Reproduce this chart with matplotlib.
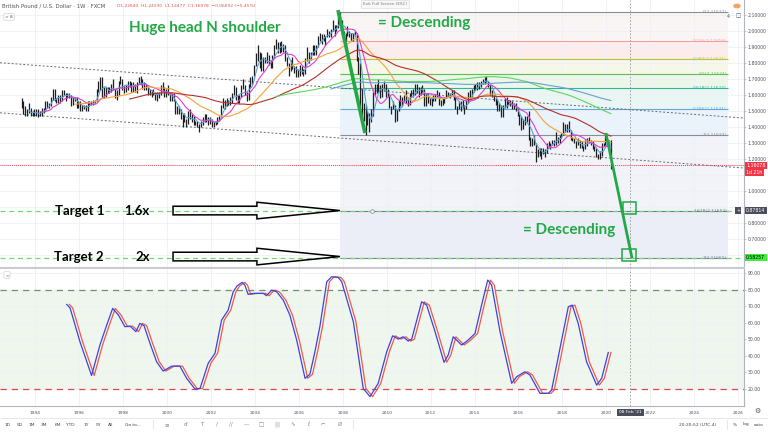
import numpy as np
import pandas as pd
import matplotlib
matplotlib.use("Agg")
import matplotlib.pyplot as plt
from matplotlib.patches import Polygon, Rectangle, Circle
from matplotlib.lines import Line2D

plt.rcParams["font.family"] = ["DejaVu Sans"]

W, H = 768, 432

# GBPUSD monthly bars, May 1993 .. Mar 2020 (close, high, low)
close = [
    1.55, 1.49, 1.49, 1.50, 1.50, 1.48, 1.49, 1.48,
    1.50, 1.48, 1.48, 1.51, 1.51, 1.54, 1.54, 1.54, 1.58, 1.63, 1.56, 1.56,
    1.59, 1.58, 1.62, 1.61, 1.59, 1.59, 1.60, 1.55, 1.58, 1.58, 1.53, 1.55,
    1.50, 1.53, 1.53, 1.51, 1.55, 1.55, 1.55, 1.56, 1.56, 1.63, 1.68, 1.71,
    1.60, 1.63, 1.64, 1.62, 1.64, 1.66, 1.64, 1.62, 1.61, 1.68, 1.69, 1.65,
    1.64, 1.65, 1.68, 1.67, 1.63, 1.67, 1.64, 1.68, 1.70, 1.69, 1.65, 1.66,
    1.65, 1.61, 1.61, 1.61, 1.61, 1.58, 1.61, 1.61, 1.65, 1.64, 1.59, 1.61,
    1.61, 1.58, 1.59, 1.56, 1.49, 1.52, 1.49, 1.45, 1.48, 1.45, 1.42, 1.49,
    1.46, 1.45, 1.42, 1.43, 1.42, 1.41, 1.43, 1.45, 1.47, 1.45, 1.43, 1.45,
    1.41, 1.42, 1.42, 1.46, 1.46, 1.53, 1.57, 1.55, 1.57, 1.56, 1.55, 1.61,
    1.65, 1.58, 1.58, 1.60, 1.65, 1.65, 1.61, 1.58, 1.66, 1.70, 1.72, 1.79,
    1.82, 1.87, 1.84, 1.77, 1.83, 1.81, 1.82, 1.80, 1.81, 1.84, 1.91, 1.92,
    1.88, 1.92, 1.89, 1.91, 1.82, 1.79, 1.76, 1.80, 1.76, 1.77, 1.73, 1.72,
    1.78, 1.75, 1.74, 1.82, 1.87, 1.85, 1.87, 1.90, 1.87, 1.91, 1.97, 1.96,
    1.96, 1.96, 1.97, 2.00, 1.98, 2.01, 2.03, 2.01, 2.04, 2.08, 2.06, 1.99,
    1.99, 1.99, 1.98, 1.98, 1.98, 1.99, 1.98, 1.82, 1.78, 1.61, 1.54, 1.46,
    1.44, 1.43, 1.43, 1.48, 1.62, 1.65, 1.67, 1.63, 1.60, 1.65, 1.65, 1.61,
    1.60, 1.52, 1.52, 1.53, 1.45, 1.50, 1.57, 1.54, 1.57, 1.60, 1.56, 1.56,
    1.60, 1.62, 1.60, 1.67, 1.65, 1.60, 1.64, 1.63, 1.56, 1.61, 1.57, 1.55,
    1.58, 1.59, 1.60, 1.62, 1.54, 1.57, 1.57, 1.59, 1.62, 1.61, 1.60, 1.63,
    1.59, 1.52, 1.52, 1.55, 1.52, 1.52, 1.52, 1.55, 1.62, 1.60, 1.64, 1.66,
    1.64, 1.67, 1.67, 1.69, 1.68, 1.71, 1.69, 1.66, 1.62, 1.60, 1.56, 1.56,
    1.50, 1.54, 1.48, 1.54, 1.53, 1.57, 1.56, 1.54, 1.51, 1.54, 1.51, 1.47,
    1.42, 1.39, 1.44, 1.46, 1.45, 1.33, 1.32, 1.31, 1.30, 1.22, 1.25, 1.23,
    1.26, 1.24, 1.25, 1.29, 1.29, 1.30, 1.32, 1.29, 1.34, 1.33, 1.35, 1.35,
    1.42, 1.38, 1.40, 1.38, 1.33, 1.32, 1.31, 1.30, 1.30, 1.28, 1.28, 1.28,
    1.31, 1.33, 1.30, 1.30, 1.26, 1.27, 1.22, 1.22, 1.23, 1.29, 1.29, 1.33,
    1.32, 1.28, 1.16,
]
high = [
    1.58, 1.56, 1.53, 1.51, 1.55, 1.52, 1.50, 1.51,
    1.51, 1.51, 1.50, 1.52, 1.52, 1.56, 1.56, 1.55, 1.59, 1.64, 1.64, 1.58,
    1.60, 1.60, 1.63, 1.63, 1.61, 1.61, 1.61, 1.60, 1.59, 1.59, 1.59, 1.56,
    1.56, 1.54, 1.54, 1.54, 1.56, 1.56, 1.56, 1.57, 1.57, 1.64, 1.69, 1.71,
    1.71, 1.65, 1.65, 1.65, 1.65, 1.67, 1.70, 1.64, 1.63, 1.69, 1.72, 1.70,
    1.66, 1.66, 1.69, 1.69, 1.68, 1.68, 1.67, 1.68, 1.71, 1.72, 1.70, 1.68,
    1.67, 1.65, 1.64, 1.63, 1.64, 1.62, 1.62, 1.62, 1.66, 1.68, 1.65, 1.64,
    1.66, 1.62, 1.61, 1.61, 1.57, 1.53, 1.53, 1.51, 1.48, 1.49, 1.45, 1.50,
    1.51, 1.48, 1.47, 1.44, 1.44, 1.42, 1.44, 1.46, 1.48, 1.48, 1.46, 1.46,
    1.45, 1.43, 1.44, 1.46, 1.47, 1.54, 1.58, 1.57, 1.58, 1.57, 1.59, 1.61,
    1.66, 1.65, 1.60, 1.60, 1.66, 1.70, 1.66, 1.62, 1.67, 1.71, 1.72, 1.79,
    1.86, 1.91, 1.87, 1.86, 1.84, 1.84, 1.87, 1.85, 1.82, 1.85, 1.91, 1.95,
    1.93, 1.93, 1.94, 1.92, 1.91, 1.84, 1.80, 1.82, 1.84, 1.78, 1.78, 1.76,
    1.79, 1.78, 1.76, 1.83, 1.90, 1.87, 1.87, 1.91, 1.91, 1.91, 1.97, 1.99,
    1.98, 1.98, 1.97, 2.01, 2.00, 2.01, 2.07, 2.04, 2.04, 2.09, 2.12, 2.07,
    2.00, 1.99, 2.03, 2.00, 1.99, 1.99, 2.00, 1.99, 1.84, 1.80, 1.64, 1.55,
    1.54, 1.50, 1.49, 1.51, 1.62, 1.67, 1.67, 1.70, 1.66, 1.67, 1.69, 1.67,
    1.64, 1.60, 1.53, 1.56, 1.54, 1.51, 1.57, 1.60, 1.59, 1.60, 1.63, 1.59,
    1.61, 1.63, 1.64, 1.67, 1.67, 1.65, 1.65, 1.66, 1.64, 1.61, 1.61, 1.58,
    1.58, 1.60, 1.60, 1.63, 1.62, 1.57, 1.58, 1.59, 1.63, 1.62, 1.61, 1.63,
    1.63, 1.59, 1.53, 1.56, 1.56, 1.57, 1.54, 1.57, 1.62, 1.63, 1.64, 1.66,
    1.67, 1.68, 1.68, 1.69, 1.70, 1.71, 1.72, 1.69, 1.66, 1.63, 1.60, 1.58,
    1.57, 1.55, 1.54, 1.54, 1.58, 1.59, 1.57, 1.57, 1.56, 1.55, 1.55, 1.52,
    1.48, 1.47, 1.45, 1.47, 1.47, 1.50, 1.34, 1.33, 1.35, 1.30, 1.26, 1.27,
    1.27, 1.27, 1.26, 1.30, 1.31, 1.30, 1.32, 1.32, 1.37, 1.34, 1.35, 1.36,
    1.43, 1.42, 1.42, 1.44, 1.38, 1.34, 1.33, 1.31, 1.33, 1.32, 1.31, 1.28,
    1.32, 1.33, 1.34, 1.32, 1.31, 1.28, 1.27, 1.23, 1.25, 1.30, 1.30, 1.35,
    1.33, 1.32, 1.32,
]
low = [
    1.52, 1.48, 1.47, 1.47, 1.49, 1.47, 1.47, 1.47,
    1.47, 1.46, 1.47, 1.47, 1.49, 1.50, 1.52, 1.52, 1.53, 1.57, 1.56, 1.55,
    1.55, 1.55, 1.56, 1.60, 1.56, 1.58, 1.58, 1.53, 1.54, 1.56, 1.52, 1.52,
    1.50, 1.50, 1.51, 1.50, 1.50, 1.53, 1.54, 1.54, 1.55, 1.56, 1.62, 1.63,
    1.59, 1.58, 1.59, 1.61, 1.61, 1.62, 1.63, 1.58, 1.57, 1.60, 1.67, 1.63,
    1.61, 1.62, 1.63, 1.65, 1.62, 1.62, 1.62, 1.61, 1.67, 1.67, 1.64, 1.63,
    1.63, 1.60, 1.60, 1.59, 1.60, 1.57, 1.56, 1.58, 1.60, 1.63, 1.59, 1.59,
    1.60, 1.56, 1.56, 1.56, 1.48, 1.48, 1.48, 1.45, 1.40, 1.43, 1.40, 1.42,
    1.45, 1.43, 1.41, 1.41, 1.40, 1.37, 1.40, 1.41, 1.43, 1.43, 1.41, 1.42,
    1.40, 1.40, 1.41, 1.42, 1.44, 1.46, 1.52, 1.51, 1.53, 1.54, 1.54, 1.55,
    1.60, 1.57, 1.55, 1.55, 1.59, 1.64, 1.60, 1.56, 1.57, 1.65, 1.67, 1.72,
    1.78, 1.81, 1.77, 1.75, 1.75, 1.80, 1.80, 1.79, 1.77, 1.77, 1.83, 1.89,
    1.86, 1.86, 1.87, 1.87, 1.81, 1.78, 1.72, 1.75, 1.76, 1.74, 1.71, 1.71,
    1.72, 1.73, 1.72, 1.73, 1.81, 1.80, 1.82, 1.85, 1.85, 1.85, 1.90, 1.94,
    1.92, 1.94, 1.91, 1.96, 1.96, 1.96, 2.00, 1.97, 2.00, 2.02, 2.04, 1.97,
    1.94, 1.94, 1.97, 1.96, 1.94, 1.94, 1.97, 1.81, 1.73, 1.52, 1.44, 1.44,
    1.35, 1.41, 1.37, 1.43, 1.47, 1.60, 1.61, 1.62, 1.58, 1.59, 1.63, 1.59,
    1.59, 1.52, 1.48, 1.51, 1.43, 1.44, 1.50, 1.53, 1.53, 1.56, 1.55, 1.53,
    1.54, 1.59, 1.59, 1.60, 1.61, 1.59, 1.60, 1.62, 1.53, 1.53, 1.55, 1.54,
    1.53, 1.56, 1.56, 1.59, 1.54, 1.53, 1.54, 1.55, 1.58, 1.59, 1.58, 1.60,
    1.57, 1.51, 1.48, 1.51, 1.50, 1.52, 1.48, 1.51, 1.55, 1.59, 1.59, 1.62,
    1.63, 1.63, 1.64, 1.65, 1.67, 1.67, 1.68, 1.65, 1.60, 1.59, 1.56, 1.54,
    1.50, 1.50, 1.46, 1.46, 1.52, 1.52, 1.54, 1.53, 1.51, 1.51, 1.50, 1.47,
    1.41, 1.38, 1.39, 1.41, 1.43, 1.32, 1.28, 1.28, 1.29, 1.18, 1.21, 1.22,
    1.20, 1.23, 1.21, 1.24, 1.28, 1.26, 1.29, 1.28, 1.29, 1.30, 1.30, 1.33,
    1.35, 1.37, 1.37, 1.37, 1.32, 1.31, 1.30, 1.27, 1.29, 1.27, 1.27, 1.25,
    1.26, 1.28, 1.30, 1.29, 1.26, 1.25, 1.21, 1.20, 1.20, 1.22, 1.28, 1.29,
    1.29, 1.28, 1.14,
]

# moving averages (months) and their colours
ma_windows = [5, 12, 30, 60, 140, 170]
ma_colors = ["#5b9fd6", "#e03fd0", "#f5a23a", "#b3302c", "#5bd65b", "#6a9fd3"]

# price axis labels (the ones hidden behind the marker boxes are left blank)
price_ticks = [0.6, 0.7, 0.8, 0.9, 1.0, 1.1, 1.2, 1.3, 1.4, 1.5, 1.6, 1.7, 1.8,
               1.9, 2.0, 2.1]
price_hidden = [0.6, 0.9, 1.1]

# fibonacci tool drawn on the price pane
fib_ratios = [0, 0.236, 0.382, 0.5, 0.618, 0.786, 1, 1.618, 2]
fib_labels = ["0(2.11612)", "0.236(2.11618)", "0.382(2.11621)", "0.5(2.11624)",
              "0.618(2.11627)", "0.786(2.11631)", "1(2.11637)", "1.618(2.11652)",
              "2(2.11661)"]
fib_high, fib_low = 2.1161, 1.3503
fib_start, fib_end = 2007.87, 2025.54
fib_line_colors = ["#8a8d96", "#f2a0a0", "#b9c23c", "#5cbf4f", "#2fb59a",
                   "#5ea9e0", "#8a8d96", "#70768f", "#7a7fa0"]
fib_fill_colors = ["#faf5f5", "#fcecec", "#f5f7e8", "#ecf7ea", "#e9f6f3",
                   "#eaf3fb", "#f2f3f9", "#eceef7"]

last_price = 1.16078
target1, target2 = 0.87814, 0.58257
cursor_date = 2021.10

# trend lines drawn by hand (year, price)
channel_upper = [(1992.39, 1.802), (2026.27, 1.456)]
channel_lower = [(1992.39, 1.489), (2026.27, 1.144)]
hs_drop = [(2007.78, 2.131), (2009.01, 1.3625)]
proj_drop = [(2019.98, 1.3625), (2021.17, 0.581)]
target_boxes = [(2021.07, 0.894), (2021.03, 0.600)]

# stochastic oscillator
osc_t = [1995.43, 1995.58, 1996.03, 1996.56, 1996.94, 1997.25, 1997.52, 1997.78,
         1998.08, 1998.31, 1998.58, 1998.76, 1998.95, 1999.22, 1999.52, 1999.82,
         2000.21, 2000.58, 2000.89, 2001.27, 2001.50, 2001.87, 2002.18, 2002.48,
         2002.78, 2003.01, 2003.19, 2003.42, 2003.54, 2003.69, 2003.92, 2004.38,
         2004.53, 2004.76, 2004.99, 2005.29, 2005.59, 2005.90, 2006.28, 2006.50,
         2006.73, 2006.96, 2007.27, 2007.49, 2007.79, 2007.95, 2008.48, 2008.93,
         2009.24, 2009.61, 2010.00, 2010.27, 2010.53, 2010.75, 2010.98, 2011.14,
         2011.59, 2011.82, 2012.20, 2012.61, 2012.80, 2013.03, 2013.41, 2013.71,
         2014.02, 2014.32, 2014.60, 2014.78, 2015.16, 2015.69, 2015.92, 2016.29,
         2016.52, 2016.98, 2017.36, 2017.51, 2017.89, 2018.27, 2018.45, 2018.72,
         2019.10, 2019.56, 2019.79, 2020.09]
stoch_k = [71.1, 69.0, 48.5, 28.0, 46.5, 58.6, 68.7, 64.7,
           57.6, 58.0, 54.6, 59.6, 58.2, 47.5, 36.4, 30.7,
           33.7, 33.7, 26.3, 19.8, 20.2, 35.4, 41.5, 61.6,
           67.7, 78.8, 82.4, 84.5, 82.8, 77.2, 77.8, 77.8,
           76.4, 79.8, 78.8, 73.7, 64.6, 49.5, 26.3, 28.7,
           42.4, 58.0, 84.9, 87.9, 87.5, 84.9, 60.6, 20.2,
           15.2, 23.2, 42.4, 52.1, 50.1, 51.5, 48.9, 50.1,
           72.7, 70.7, 54.6, 36.0, 40.4, 51.5, 46.5, 49.5,
           53.5, 70.7, 85.9, 82.8, 54.6, 23.3, 27.3, 30.3,
           28.3, 17.2, 17.2, 19.2, 44.5, 69.7, 70.7, 59.6,
           36.4, 22.2, 26.3, 42.0]
d_lag = 0.12  # red %D trails the blue %K by about this much (years)

months = pd.date_range("1993-05-01", periods=len(close), freq="MS")
t = np.asarray(months.year + (months.month - 0.5) / 12)

X0, X1 = 1992.39, 2026.27
GREEN = "#22a946"
AXIS_FS = 3.3


def px_box(x0, y0, x1, y1):
    return [x0 / W, 1 - y1 / H, (x1 - x0) / W, (y1 - y0) / H]


fig = plt.figure(figsize=(W / 100, H / 100), dpi=100)
ax = fig.add_axes(px_box(0, 0, 744, 268))
ax2 = fig.add_axes(px_box(0, 269, 744, 405.7))

# ---- price pane
ax.set_xlim(X0, X1)
ax.set_ylim(0.519, 2.194)
ax.set_axisbelow(True)
ax.set_xticks(np.arange(1994, 2027, 2))
ax.set_yticks(price_ticks)
ax.set_yticklabels(["" if v in price_hidden else f"{v:.5f}" for v in price_ticks])
ax.grid(color="#eef0f5", lw=0.6)
ax.tick_params(axis="x", length=0, labelbottom=False)
ax.tick_params(axis="y", left=False, labelleft=False, right=True, labelright=True,
               length=1.5, width=0.5, color="#b2b5be", labelsize=AXIS_FS,
               labelcolor="#4c525e", pad=1.2)
for s in ["top", "left"]:
    ax.spines[s].set_visible(False)
ax.spines["right"].set_color("#b2b5be")
ax.spines["right"].set_linewidth(0.8)
ax.spines["bottom"].set_color("#c9cbd1")
ax.spines["bottom"].set_linewidth(1.5)

fib_prices = [fib_high - r * (fib_high - fib_low) for r in fib_ratios]
for i in range(len(fib_prices) - 1):
    ax.fill_between([fib_start, fib_end], fib_prices[i], fib_prices[i + 1],
                    color=fib_fill_colors[i], lw=0, zorder=0.2)
for p, lab, c in zip(fib_prices, fib_labels, fib_line_colors):
    ax.hlines(p, fib_start, fib_end, colors=c, lw=0.8, zorder=1)
    ax.text(fib_end - 0.05, p, lab, ha="right", va="center", fontsize=3.2,
            color=c, zorder=6)
ax.plot([2009.33], [fib_prices[7]], marker="o", ms=2.6, mfc="white",
        mec="#8a8fa8", mew=0.6, zorder=6)

for lvl in (target1, target2):
    ax.axhline(lvl, color="#6fd86f", ls=(0, (4, 3)), lw=0.9, zorder=2)
ax.axhline(last_price, color="#f23645", ls=(0, (1, 1)), lw=0.7, zorder=2)

for line in (channel_upper, channel_lower):
    xs, ys = zip(*line)
    ax.plot(xs, ys, color="#666a73", ls=(0, (2, 2)), lw=0.7, zorder=2)

ax.vlines(t, low, high, color="#1e1e1e", lw=0.9, zorder=3)
cs = pd.Series(close)
for n, c in zip(ma_windows, ma_colors):
    ax.plot(t, cs.rolling(n).mean(), color=c, lw=0.8, zorder=4)

for seg, lw in ((hs_drop, 2.6), (proj_drop, 2.0)):
    xs, ys = zip(*seg)
    ax.plot(xs, ys, color=GREEN, lw=lw, solid_capstyle="butt", zorder=7)
for cx, cy in target_boxes:
    bw, bh = 0.6, 0.075
    ax.add_patch(Rectangle((cx - bw / 2, cy - bh / 2), bw, bh, fill=False,
                           ec=GREEN, lw=1.1, zorder=7))

ax.axvline(cursor_date, color="#9598a1", ls=(0, (2, 2)), lw=0.6, zorder=5)

# hollow block arrows pointing at the targets
tail, head_base, tip = 2000.27, 2004.09, 2007.87
for cy in (target1, target2 + 0.008):
    hs, hh = 0.027, 0.052
    pts = [(tail, cy + hs), (head_base, cy + hs), (head_base, cy + hh), (tip, cy),
           (head_base, cy - hh), (head_base, cy - hs), (tail, cy - hs)]
    ax.add_patch(Polygon(pts, closed=True, fill=False, ec="black", lw=1.1, zorder=7))

ann = dict(family=["Lato", "DejaVu Sans"], fontweight="bold", zorder=8)
ax.text(2001.72, 2.019, "Huge head N shoulder", color=GREEN, fontsize=11,
        ha="center", va="center", **ann)
ax.text(2011.72, 2.052, "= Descending", color=GREEN, fontsize=11,
        ha="center", va="center", **ann)
ax.text(2018.3, 0.756, "= Descending", color=GREEN, fontsize=11,
        ha="center", va="center", **ann)
ax.text(1996.03, target1, "Target 1", color="black", fontsize=9.5,
        ha="center", va="center", **ann)
ax.text(1998.6, target1, "1.6x", color="black", fontsize=9.5,
        ha="center", va="center", **ann)
ax.text(1995.96, target2 + 0.008, "Target 2", color="black", fontsize=9.5,
        ha="center", va="center", **ann)
ax.text(1998.9, target2 + 0.008, "2x", color="black", fontsize=9.5,
        ha="center", va="center", **ann)

ytr = ax.get_yaxis_transform()
box = dict(boxstyle="square,pad=0.25", lw=0)
ax.text(1.003, last_price, f"{last_price:.5f}", transform=ytr, fontsize=AXIS_FS,
        color="white", va="center", bbox=dict(fc="#f23645", **box), zorder=9)
ax.text(1.003, last_price - 0.046, "1d 21h", transform=ytr, fontsize=AXIS_FS,
        color="white", va="center", bbox=dict(fc="#f23645", **box), zorder=9)
ax.text(1.003, target1, f"{target1:.5f}", transform=ytr, fontsize=AXIS_FS,
        color="white", va="center", bbox=dict(fc="#4a4e5a", **box), zorder=9)
ax.text(0.992, target1, "+", transform=ytr, fontsize=AXIS_FS, color="white",
        ha="center", va="center", bbox=dict(fc="#4a4e5a", **box), zorder=9)
ax.text(1.003, target2, f"{target2:.5f}", transform=ytr, fontsize=AXIS_FS,
        color="black", va="center", bbox=dict(fc="#3ef03e", **box), zorder=9)

# ---- oscillator pane
ax2.set_xlim(X0, X1)
ax2.set_ylim(9.7, 92.6)
ax2.set_axisbelow(True)
ax2.set_xticks(np.arange(1994, 2027, 2))
ax2.set_yticks(np.arange(20, 91, 10))
ax2.set_yticklabels([f"{v:.2f}" for v in np.arange(20, 91, 10)])
ax2.grid(color="#eef0f5", lw=0.6)
ax2.tick_params(axis="x", length=0, labelsize=3.2, labelcolor="#4c525e", pad=3.5)
ax2.tick_params(axis="y", left=False, labelleft=False, right=True, labelright=True,
                length=1.5, width=0.5, color="#b2b5be", labelsize=AXIS_FS,
                labelcolor="#4c525e", pad=1.2)
for s in ["top", "left"]:
    ax2.spines[s].set_visible(False)
ax2.spines["right"].set_color("#b2b5be")
ax2.spines["right"].set_linewidth(0.8)
ax2.spines["bottom"].set_color("#b2b5be")
ax2.spines["bottom"].set_linewidth(0.8)

ax2.fill_between([X0, X1], 20, 80, color="#eff6ee", lw=0, zorder=0.2)
ax2.axhline(80, color="#6f8f6f", ls=(0, (5, 4)), lw=0.9, zorder=1)
ax2.axhline(20, color="#e04848", ls=(0, (5, 4)), lw=0.9, zorder=1)
ax2.axvline(cursor_date, color="#9598a1", ls=(0, (2, 2)), lw=0.6, zorder=1)
ax2.plot(np.array(osc_t) + d_lag, stoch_k, color="#f05a4a", lw=0.9, zorder=3)
ax2.plot(osc_t, stoch_k, color="#3a44e0", lw=0.9, zorder=4)
ax2.text(cursor_date, -0.035, "08 Feb '21", transform=ax2.get_xaxis_transform(),
         ha="center", va="top", fontsize=3.2, color="white",
         bbox=dict(boxstyle="square,pad=0.4", fc="#4a4e5a", lw=0), zorder=9)

# ---- header, toolbar and small chrome
fig.text(2 / W, 1 - 6 / H, "British Pound / U.S. Dollar · 1W · FXCM",
         fontsize=3.9, color="#555", va="center")
fig.text(117 / W, 1 - 6 / H,
         "O1.22640  H1.24230  L1.14477  C1.16078  −0.06692 (−5.45%)",
         fontsize=3.2, color="#e0524a", va="center")
fig.text(9 / W, 1 - 17 / H, "> 8", fontsize=3.2, color="#555", ha="center",
         va="center", bbox=dict(boxstyle="round,pad=0.3", fc="white",
                                ec="#d0d3da", lw=0.5))
fig.text(7 / W, 1 - 275 / H, ">", fontsize=3.2, color="#555", ha="center",
         va="center", bbox=dict(boxstyle="round,pad=0.3", fc="white",
                                ec="#d0d3da", lw=0.5))
fig.text(385 / W, 1 - 4 / H, "Exit Full Screen (ESC)", fontsize=3, color="#777",
         ha="center", va="center", bbox=dict(boxstyle="square,pad=0.4",
                                             fc="#f8f8f8", ec="#dddddd", lw=0.5))
fig.add_artist(Circle((737 / W, 1 - 6 / H), 3 / W, color="#f7a35c",
                      transform=fig.transFigure))
fig.text(728 / W, 1 - 16 / H, "4", fontsize=3.4, color="#555", ha="center",
         va="center")
fig.text(738 / W, 1 - 16 / H, "□", fontsize=4, color="#555", ha="center",
         va="center")
fig.text(757 / W, 1 - 411 / H, "⚙", fontsize=5, color="#555", ha="center",
         va="center")

fig.add_artist(Line2D([0, 1], [1 - 418 / H, 1 - 418 / H], color="#e0e3eb",
                      lw=0.6, transform=fig.transFigure))
ty = 1 - 424.5 / H
periods = ["1D", "5D", "1M", "3M", "6M", "YTD", "1Y", "5Y", "All"]
period_x = [7.4, 19.7, 31.5, 44.3, 57.6, 70.4, 86, 98.5, 111]
for lab, x in zip(periods, period_x):
    fig.text(x / W, ty, lab, fontsize=3.2, color="#444", ha="center", va="center")
fig.text(133 / W, ty, "Go to...", fontsize=3.2, color="#444", ha="center",
         va="center")
icons = ["≡", "ɗ", "T", "/", "//", "—", "□", "|||", "∿", "ℓ", "⌐", "Ø"]
icon_x = [167, 186, 202, 217, 231, 246, 261, 277, 293, 308, 323, 340]
for g, x in zip(icons, icon_x):
    fig.text(x / W, ty, g, fontsize=4, color="#888", ha="center", va="center")
for x in (153, 353, 727):
    fig.add_artist(Line2D([x / W, x / W], [1 - 420 / H, 1 - 429 / H],
                          color="#e0e3eb", lw=0.6, transform=fig.transFigure))
fig.text(698 / W, ty, "20:20:52 (UTC-4)", fontsize=3.2, color="#444",
         ha="center", va="center")
for lab, x in zip(["%", "log", "auto"], [735, 746, 759]):
    fig.text(x / W, ty, lab, fontsize=3.2, color="#444", ha="center", va="center")

fig.savefig("out.png", dpi=100, facecolor="white")
